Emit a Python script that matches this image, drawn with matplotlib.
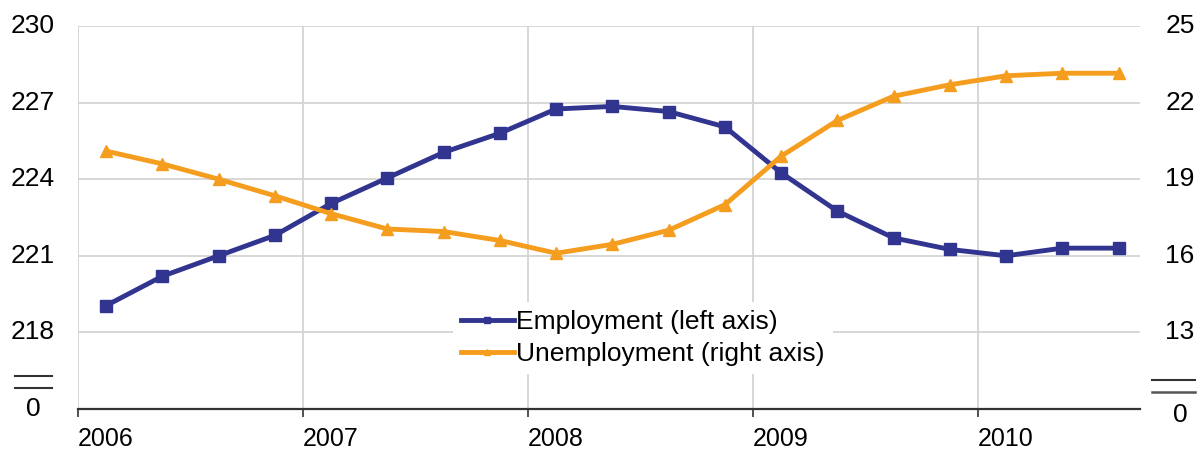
import matplotlib
matplotlib.use("Agg")
import matplotlib.pyplot as plt
import numpy as np

plt.rcParams['font.family'] = ['Liberation Sans', 'DejaVu Sans']

# Data (quarterly, 2006Q1 - 2010Q3)
quarters = ["2006Q1", "2006Q2", "2006Q3", "2006Q4", "2007Q1", "2007Q2", "2007Q3", "2007Q4",
            "2008Q1", "2008Q2", "2008Q3", "2008Q4", "2009Q1", "2009Q2", "2009Q3", "2009Q4",
            "2010Q1", "2010Q2", "2010Q3"]
employment = [219.05, 220.2, 221.0, 221.8, 223.05, 224.05, 225.05, 225.8, 226.75, 226.85,
              226.65, 226.05, 224.25, 222.75, 221.7, 221.25, 221.0, 221.3, 221.3]
unemployment = [20.1, 19.6, 19.0, 18.35, 17.65, 17.05, 16.95, 16.6, 16.1, 16.45,
                17.0, 18.0, 19.9, 21.3, 22.25, 22.7, 23.05, 23.15, 23.15]
year_labels = ["2006", "2007", "2008", "2009", "2010"]
left_tick_vals = [215, 218, 221, 224, 227, 230]
left_ticks = ["0", "218", "221", "224", "227", "230"]
right_tick_vals = [10, 13, 16, 19, 22, 25]
right_ticks = ["0", "13", "16", "19", "22", "25"]

blue = "#313590"
orange = "#F59D1E"
grid_c = "#d4d4d4"
FS = 19

def qpos(q):
    y = int(q[:4]); n = int(q[-1])
    return y + (n - 1) * 0.25 + 0.125

x = np.array([qpos(q) for q in quarters])
years = np.array([int(y) for y in year_labels])

fig = plt.figure(figsize=(11.99, 4.5), dpi=100)
ax = fig.add_axes([78/1199, (450-409)/450, (1140-78)/1199, (409-26)/450])
ax2 = ax.twinx()

ax.set_xlim(2006, 2010.72)
ax.set_ylim(215, 230)
ax2.set_ylim(10, 25)

# grid
for v in left_tick_vals[1:]:
    ax.axhline(v, color=grid_c, lw=1.3, zorder=0)
for yv in years:
    ax.axvline(yv, color=grid_c, lw=1.3, zorder=0)

for s in ax.spines.values():
    s.set_visible(False)
for s in ax2.spines.values():
    s.set_visible(False)
ax.spines['bottom'].set_visible(True)
ax.spines['bottom'].set_color('#333333')
ax.spines['bottom'].set_linewidth(1.6)

l1, = ax.plot(x, employment, color=blue, lw=3.5, marker='s', ms=8, zorder=3,
              label="Employment (left axis)")
l2, = ax2.plot(x, unemployment, color=orange, lw=3.5, marker='^', ms=9, zorder=3,
               label="Unemployment (right axis)")

ax.set_xticks(years)
ax.set_xticklabels(year_labels, ha='left', fontsize=18)
ax.tick_params(axis='x', direction='out', length=5.8, width=1.2, color='#333333', pad=7)

ax.set_yticks([])
ax2.set_yticks([])

# y tick labels placed centered like the reference
trans_l = matplotlib.transforms.blended_transform_factory(fig.transFigure, ax.transData)
for v, t in zip(left_tick_vals, left_ticks):
    ax.text(33/1199, v, t, transform=trans_l, ha='center', va='center', fontsize=FS, clip_on=False)
trans_r = matplotlib.transforms.blended_transform_factory(fig.transFigure, ax2.transData)
for v, t in zip(right_tick_vals, right_ticks):
    off = -0.25 if t == "0" else 0.0
    ax2.text(1180/1199, v + off, t, transform=trans_r, ha='center', va='center', fontsize=FS, clip_on=False)

# axis break marks
fig.add_artist(plt.Line2D([15/1199, 52/1199], [(450-376)/450]*2, color='#333333', lw=1.5))
fig.add_artist(plt.Line2D([15/1199, 52/1199], [(450-388)/450]*2, color='#333333', lw=1.5))
fig.add_artist(plt.Line2D([1152/1199, 1195/1199], [(450-380)/450]*2, color='#333333', lw=1.5))
fig.add_artist(plt.Line2D([1152/1199, 1195/1199], [(450-392)/450]*2, color='#555555', lw=1.8))

leg = ax2.legend(handles=[l1, l2], loc='center', bbox_to_anchor=((643-78)/(1140-78), (409-338)/(409-26)),
                 frameon=True, fontsize=FS, handlelength=2.0, handletextpad=0.1,
                 borderpad=0.3, labelspacing=0.3, markerscale=0.5)
leg.get_frame().set_facecolor('white')
leg.get_frame().set_edgecolor('none')
leg.get_frame().set_alpha(1)
leg.set_zorder(10)

fig.savefig("out.png", dpi=100)
